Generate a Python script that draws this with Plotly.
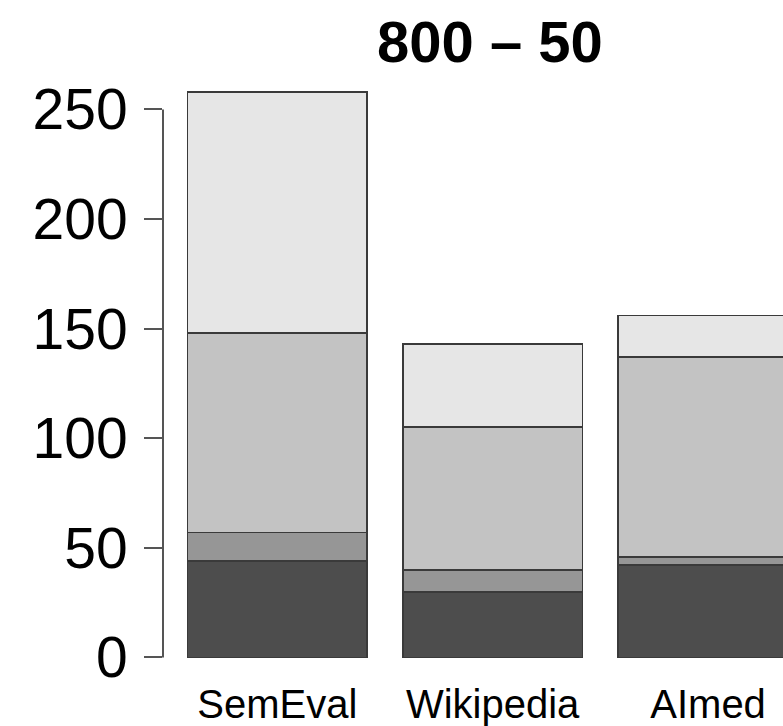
import plotly.graph_objects as go

# Corpora shown along the x axis
categories = ["SemEval", "Wikipedia", "AImed"]
# Bar centres on a numeric axis (bar width 1, gap 0.2)
positions = [0.7, 1.9, 3.1]

# Stacked segment counts, bottom to top
layer1 = [44, 30, 42]
layer2 = [13, 10, 4]
layer3 = [91, 65, 91]
layer4 = [110, 38, 19]

layers = [layer1, layer2, layer3, layer4]
colors = ["#4D4D4D", "#969696", "#C3C3C3", "#E6E6E6"]

y_ticks = [0, 50, 100, 150, 200, 250]

FONT = "Liberation Sans, Arial, Helvetica, sans-serif"

fig = go.Figure()
for vals, col in zip(layers, colors):
    fig.add_trace(go.Bar(
        x=positions, y=vals, width=1.0,
        marker=dict(color=col, line=dict(color="#3a3a3a", width=1.8)),
        showlegend=False, hoverinfo="skip",
    ))

fig.update_layout(
    barmode="stack",
    width=783, height=726,
    margin=dict(l=163, r=0, t=81, b=62),
    paper_bgcolor="white", plot_bgcolor="white",
    font=dict(family=FONT, color="black"),
    title=dict(
        text="<b>800 \u2013 50</b>",
        font=dict(size=58, family=FONT, color="black"),
        xref="container", yref="container",
        x=490 / 783, y=1 - 42 / 726,
        xanchor="center", yanchor="middle",
    ),
    xaxis=dict(
        range=[0.0635, 3.5175],
        tickvals=positions, ticktext=categories,
        ticks="", showline=False, showgrid=False, zeroline=False,
        tickfont=dict(size=40, family=FONT, color="black"),
        ticklabelstandoff=13,
    ),
    yaxis=dict(
        range=[-3, 263],
        tickvals=y_ticks,
        ticks="outside", ticklen=18, tickwidth=2, tickcolor="#555555",
        showline=False, showgrid=False, zeroline=False,
        tickfont=dict(size=57, family=FONT, color="black"),
        ticklabelstandoff=5,
    ),
    shapes=[dict(
        type="line", xref="paper", yref="y",
        x0=0, x1=0, y0=y_ticks[0], y1=y_ticks[-1],
        line=dict(color="#555555", width=2),
    )],
)

fig.write_html("out.html")
